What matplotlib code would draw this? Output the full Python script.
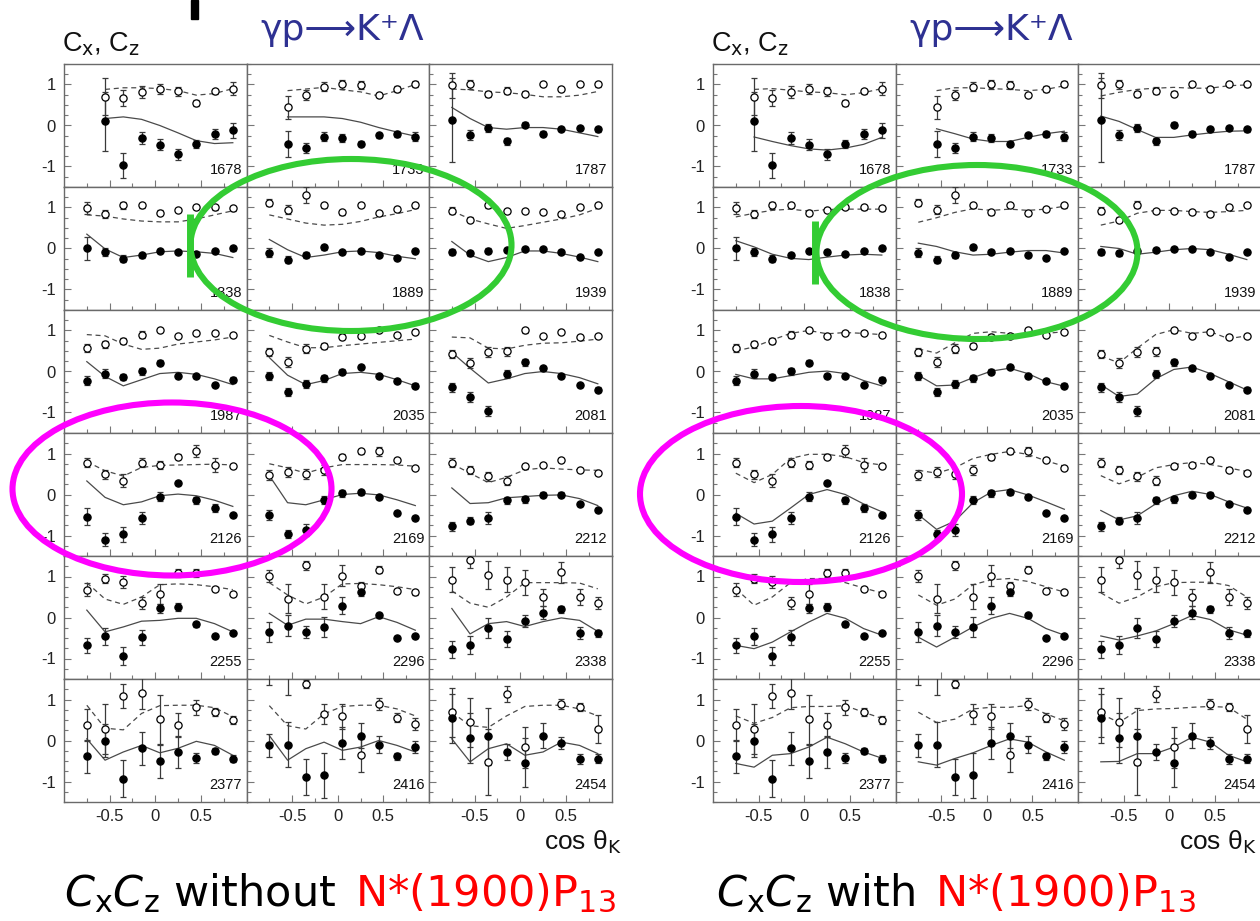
import numpy as np
import matplotlib
matplotlib.use("Agg")
import matplotlib.pyplot as plt
from matplotlib.patches import Ellipse, Rectangle
from matplotlib.lines import Line2D

plt.rcParams['font.family'] = ['Liberation Sans', 'DejaVu Sans']
plt.rcParams['axes.unicode_minus'] = False
plt.rcParams['mathtext.fontset'] = 'dejavusans'

nan = np.nan

# cos(theta_K) bin centres
cos_bins = [-0.75, -0.55, -0.35, -0.15, 0.05, 0.25, 0.45, 0.65, 0.85]

# W (MeV) of each panel, row by row
energies = [1678, 1733, 1787, 1838, 1889, 1939, 1987, 2035, 2081,
            2126, 2169, 2212, 2255, 2296, 2338, 2377, 2416, 2454]

# measured Cx (filled) and its errors
cx_vals = [
    [nan, 0.10, -0.97, -0.31, -0.47, -0.70, -0.46, -0.21, -0.12],
    [nan, -0.46, -0.55, -0.27, -0.31, -0.44, -0.24, -0.20, -0.27],
    [0.13, -0.23, -0.07, -0.39, 0.02, -0.20, -0.08, -0.07, -0.09],
    [0.00, -0.09, -0.25, -0.17, -0.06, -0.09, -0.14, -0.06, 0.00],
    [-0.10, -0.27, -0.16, 0.03, -0.08, -0.06, -0.16, -0.23, -0.06],
    [-0.09, -0.12, -0.06, -0.04, -0.01, -0.01, -0.08, -0.21, -0.09],
    [-0.22, -0.05, -0.13, 0.00, 0.21, -0.11, -0.12, -0.32, -0.20],
    [-0.11, -0.50, -0.30, -0.17, -0.01, 0.12, -0.11, -0.24, -0.35],
    [-0.39, -0.63, -0.97, -0.07, 0.22, 0.08, -0.11, -0.34, -0.45],
    [-0.54, -1.10, -0.97, -0.58, -0.05, 0.27, -0.14, -0.33, -0.49],
    [-0.51, -0.97, -0.86, -0.13, 0.03, 0.05, -0.05, -0.44, -0.57],
    [-0.78, -0.64, -0.58, -0.14, -0.12, 0.00, 0.00, -0.24, -0.38],
    [-0.68, -0.46, -0.93, -0.48, 0.22, 0.26, -0.17, -0.45, -0.39],
    [-0.35, -0.20, -0.35, -0.23, 0.29, 0.63, 0.06, -0.49, -0.45],
    [-0.78, -0.68, -0.25, -0.52, -0.08, 0.12, 0.20, -0.38, -0.39],
    [-0.39, 0.00, -0.93, -0.19, -0.51, -0.28, -0.42, -0.26, -0.44],
    [-0.12, -0.10, -0.89, -0.85, -0.06, 0.12, -0.10, -0.39, -0.15],
    [0.54, 0.06, 0.10, -0.28, -0.54, 0.12, -0.06, -0.46, -0.44],
]
cx_errs = [
    [nan, 0.71, 0.30, 0.15, 0.13, 0.13, 0.10, 0.12, 0.19],
    [nan, 0.32, 0.12, 0.10, 0.10, 0.06, 0.06, 0.07, 0.10],
    [1.02, 0.12, 0.10, 0.08, 0.06, 0.06, 0.05, 0.05, 0.06],
    [0.27, 0.10, 0.08, 0.06, 0.05, 0.05, 0.05, 0.05, 0.05],
    [0.10, 0.08, 0.08, 0.06, 0.05, 0.05, 0.05, 0.05, 0.05],
    [0.08, 0.06, 0.06, 0.05, 0.05, 0.05, 0.05, 0.04, 0.04],
    [0.12, 0.10, 0.08, 0.08, 0.06, 0.05, 0.04, 0.04, 0.06],
    [0.10, 0.10, 0.10, 0.08, 0.06, 0.04, 0.04, 0.05, 0.06],
    [0.12, 0.12, 0.12, 0.10, 0.08, 0.06, 0.05, 0.04, 0.06],
    [0.20, 0.15, 0.18, 0.15, 0.10, 0.05, 0.08, 0.10, 0.05],
    [0.12, 0.10, 0.15, 0.10, 0.08, 0.05, 0.05, 0.04, 0.04],
    [0.10, 0.08, 0.15, 0.08, 0.08, 0.06, 0.05, 0.04, 0.04],
    [0.18, 0.20, 0.22, 0.18, 0.12, 0.10, 0.06, 0.04, 0.04],
    [0.25, 0.25, 0.15, 0.25, 0.20, 0.10, 0.06, 0.04, 0.04],
    [0.20, 0.22, 0.25, 0.20, 0.15, 0.15, 0.08, 0.15, 0.08],
    [0.40, 0.40, 0.45, 0.40, 0.40, 0.38, 0.12, 0.08, 0.08],
    [0.28, 0.55, 0.45, 0.55, 0.40, 0.30, 0.20, 0.08, 0.15],
    [0.60, 0.60, 0.70, 0.20, 0.60, 0.30, 0.15, 0.12, 0.12],
]

# measured Cz (open) and its errors
cz_vals = [
    [nan, 0.70, 0.67, 0.82, 0.90, 0.83, 0.55, 0.83, 0.90],
    [nan, 0.44, 0.74, 0.95, 1.00, 0.98, 0.74, 0.89, 1.02],
    [0.98, 1.00, 0.77, 0.85, 0.78, 1.02, 0.90, 1.02, 1.00],
    [0.98, 0.84, 1.05, 1.05, 0.87, 0.94, 1.01, 1.00, 0.98],
    [1.12, 0.95, 1.30, 1.05, 0.88, 1.05, 0.87, 0.96, 1.05],
    [0.92, 0.70, 1.07, 0.92, 0.91, 0.88, 0.84, 1.02, 1.05],
    [0.57, 0.66, 0.74, 0.90, 1.01, 0.86, 0.95, 0.95, 0.90],
    [0.47, 0.23, 0.56, 0.62, 0.85, 0.87, 1.02, 0.90, 0.97],
    [0.42, 0.21, 0.47, 0.49, 1.00, 0.86, 0.97, 0.84, 0.87],
    [0.78, 0.49, 0.34, 0.78, 0.72, 0.92, 1.06, 0.72, 0.69],
    [0.47, 0.54, 0.49, 0.60, 0.92, 1.06, 1.05, 0.85, 0.65],
    [0.78, 0.60, 0.44, 0.34, 0.69, 0.71, 0.84, 0.60, 0.52],
    [0.68, 0.95, 0.86, 0.36, 0.57, 1.09, 1.09, 0.70, 0.57],
    [1.02, 0.46, 1.27, 0.51, 1.02, 0.76, 1.17, 0.64, 0.61],
    [0.92, 1.40, 1.04, 0.92, 0.86, 0.49, 1.10, 0.50, 0.35],
    [0.38, 0.28, 1.09, 1.15, 0.52, 0.38, 0.81, 0.69, 0.50],
    [1.70, 1.70, 1.37, 0.65, 0.59, -0.36, 0.89, 0.56, 0.40],
    [0.69, 0.44, -0.52, 1.13, -0.16, nan, 0.90, 0.81, 0.28],
]
cz_errs = [
    [nan, 0.45, 0.20, 0.15, 0.12, 0.10, 0.08, 0.06, 0.15],
    [nan, 0.28, 0.12, 0.10, 0.10, 0.10, 0.05, 0.07, 0.07],
    [0.30, 0.10, 0.08, 0.08, 0.06, 0.05, 0.05, 0.05, 0.06],
    [0.15, 0.10, 0.08, 0.06, 0.06, 0.05, 0.05, 0.05, 0.06],
    [0.08, 0.10, 0.19, 0.06, 0.06, 0.05, 0.05, 0.05, 0.06],
    [0.08, 0.06, 0.08, 0.05, 0.05, 0.05, 0.05, 0.05, 0.05],
    [0.10, 0.08, 0.08, 0.08, 0.05, 0.04, 0.04, 0.04, 0.05],
    [0.10, 0.12, 0.10, 0.08, 0.06, 0.05, 0.04, 0.04, 0.04],
    [0.10, 0.12, 0.12, 0.10, 0.06, 0.05, 0.04, 0.05, 0.04],
    [0.12, 0.10, 0.15, 0.12, 0.10, 0.06, 0.15, 0.18, 0.05],
    [0.12, 0.12, 0.12, 0.12, 0.08, 0.06, 0.10, 0.04, 0.04],
    [0.10, 0.10, 0.10, 0.12, 0.06, 0.05, 0.05, 0.04, 0.04],
    [0.15, 0.12, 0.15, 0.15, 0.25, 0.10, 0.10, 0.05, 0.05],
    [0.15, 0.35, 0.12, 0.30, 0.25, 0.10, 0.08, 0.05, 0.05],
    [0.30, 0.20, 0.35, 0.30, 0.30, 0.20, 0.25, 0.20, 0.15],
    [0.40, 0.60, 0.30, 0.38, 0.60, 0.30, 0.18, 0.10, 0.10],
    [0.35, 0.60, 0.10, 0.25, 0.30, 0.40, 0.15, 0.10, 0.15],
    [0.60, 0.60, 0.80, 0.20, 0.50, nan, 0.12, 0.10, 0.35],
]

# model curves, sampled at the bin centres: fit without N*(1900)P13
cx_fit_without = [
    [nan, 0.17, 0.21, 0.15, 0.00, -0.18, -0.37, -0.44, -0.42],
    [nan, 0.21, 0.21, 0.21, 0.17, 0.08, -0.05, -0.16, -0.26],
    [0.44, 0.17, -0.05, -0.09, -0.05, -0.05, -0.09, -0.18, -0.27],
    [0.35, -0.01, -0.22, -0.16, -0.08, -0.06, -0.08, -0.12, -0.22],
    [0.22, -0.03, -0.22, -0.16, -0.08, -0.06, -0.10, -0.19, -0.25],
    [0.17, -0.16, -0.32, -0.22, -0.06, -0.06, -0.12, -0.21, -0.32],
    [0.24, -0.12, -0.35, -0.20, -0.05, -0.02, -0.07, -0.18, -0.32],
    [0.34, -0.09, -0.32, -0.22, -0.05, -0.02, -0.07, -0.20, -0.35],
    [0.47, 0.08, -0.28, -0.18, -0.05, 0.00, -0.05, -0.15, -0.30],
    [0.33, -0.07, -0.25, -0.18, -0.03, 0.01, -0.03, -0.14, -0.29],
    [0.46, -0.20, -0.25, -0.13, 0.00, 0.03, -0.01, -0.13, -0.27],
    [0.16, -0.22, -0.20, -0.08, -0.05, -0.02, -0.01, -0.10, -0.27],
    [0.18, -0.35, -0.23, -0.09, -0.07, -0.02, -0.02, -0.15, -0.35],
    [0.10, -0.19, -0.04, -0.04, -0.10, -0.15, 0.02, -0.12, -0.31],
    [0.22, -0.40, -0.15, -0.10, -0.22, -0.10, -0.01, -0.07, -0.34],
    [0.04, -0.48, -0.28, -0.12, -0.30, -0.19, -0.02, -0.12, -0.36],
    [0.12, -0.48, -0.20, -0.04, -0.24, -0.16, 0.00, -0.12, -0.28],
    [0.04, -0.52, -0.20, -0.08, -0.36, -0.28, -0.04, -0.12, -0.32],
]
cz_fit_without = [
    [nan, 0.88, 0.92, 0.92, 0.90, 0.85, 0.74, 0.78, 0.90],
    [nan, 0.85, 0.89, 0.93, 0.87, 0.82, 0.72, 0.85, 1.00],
    [0.89, 0.87, 0.82, 0.80, 0.76, 0.70, 0.70, 0.74, 0.83],
    [0.82, 0.79, 0.72, 0.67, 0.65, 0.65, 0.72, 0.82, 0.92],
    [0.82, 0.72, 0.62, 0.57, 0.59, 0.66, 0.77, 0.85, 0.95],
    [0.92, 0.72, 0.60, 0.49, 0.56, 0.64, 0.72, 0.82, 0.98],
    [0.90, 0.87, 0.67, 0.54, 0.57, 0.67, 0.72, 0.77, 0.84],
    [0.88, 0.72, 0.58, 0.58, 0.63, 0.67, 0.71, 0.75, 0.79],
    [0.84, 0.82, 0.57, 0.55, 0.64, 0.69, 0.70, 0.74, 0.79],
    [0.80, 0.58, 0.45, 0.66, 0.71, 0.72, 0.73, 0.74, 0.72],
    [0.75, 0.65, 0.52, 0.65, 0.73, 0.73, 0.73, 0.72, 0.69],
    [0.75, 0.52, 0.29, 0.42, 0.60, 0.65, 0.62, 0.60, 0.59],
    [0.85, 0.45, 0.32, 0.50, 0.80, 0.82, 0.80, 0.75, 0.68],
    [0.85, 0.55, 0.33, 0.50, 0.82, 0.83, 0.80, 0.75, 0.68],
    [0.65, 0.35, 0.25, 0.50, 0.85, 0.85, 0.85, 0.84, 0.70],
    [0.86, 0.30, 0.26, 0.66, 0.85, 0.86, 0.86, 0.80, 0.58],
    [0.85, 0.36, 0.28, 0.65, 0.83, 0.86, 0.86, 0.77, 0.60],
    [0.69, 0.36, 0.32, 0.60, 0.83, 0.86, 0.86, 0.77, 0.60],
]

# model curves: fit with N*(1900)P13
cx_fit_with = [
    [nan, -0.28, -0.39, -0.49, -0.57, -0.60, -0.55, -0.46, -0.29],
    [nan, -0.08, -0.20, -0.33, -0.39, -0.39, -0.29, -0.20, -0.14],
    [0.23, 0.10, -0.10, -0.29, -0.29, -0.23, -0.18, -0.14, -0.13],
    [0.19, 0.04, -0.14, -0.24, -0.27, -0.21, -0.16, -0.14, -0.16],
    [0.13, 0.05, -0.08, -0.16, -0.14, -0.09, -0.05, -0.05, -0.11],
    [0.05, 0.00, -0.14, -0.09, -0.03, 0.00, -0.03, -0.14, -0.27],
    [-0.07, -0.18, -0.18, -0.10, -0.02, 0.01, -0.05, -0.22, -0.35],
    [-0.09, -0.35, -0.33, -0.15, 0.01, 0.08, -0.05, -0.25, -0.36],
    [-0.32, -0.61, -0.55, -0.18, 0.05, 0.11, -0.05, -0.25, -0.45],
    [-0.46, -0.72, -0.65, -0.33, 0.00, 0.12, 0.00, -0.23, -0.42],
    [-0.49, -0.85, -0.65, -0.20, 0.06, 0.12, -0.01, -0.18, -0.36],
    [-0.39, -0.62, -0.52, -0.23, -0.03, 0.08, 0.00, -0.18, -0.33],
    [-0.68, -0.76, -0.60, -0.35, -0.11, 0.10, -0.02, -0.27, -0.43],
    [-0.48, -0.72, -0.48, -0.23, -0.02, 0.10, -0.02, -0.27, -0.43],
    [-0.45, -0.55, -0.45, -0.33, -0.15, 0.05, -0.05, -0.30, -0.43],
    [-0.56, -0.65, -0.36, -0.32, -0.16, 0.08, -0.08, -0.28, -0.43],
    [-0.52, -0.60, -0.44, -0.30, -0.12, 0.04, -0.04, -0.28, -0.48],
    [-0.52, -0.51, -0.32, -0.32, -0.16, 0.08, -0.04, -0.36, -0.52],
]
cz_fit_with = [
    [nan, 0.88, 0.90, 0.86, 0.82, 0.80, 0.75, 0.80, 0.90],
    [nan, 0.85, 0.92, 0.92, 0.90, 0.88, 0.85, 0.88, 0.97],
    [0.72, 0.81, 0.88, 0.91, 0.93, 0.91, 0.91, 0.97, 0.99],
    [0.77, 0.86, 0.93, 0.96, 0.91, 0.95, 0.96, 0.96, 0.96],
    [0.64, 0.75, 0.88, 0.97, 0.93, 0.96, 0.93, 0.96, 1.03],
    [0.57, 0.67, 0.86, 0.93, 0.93, 0.90, 0.88, 0.90, 0.93],
    [0.50, 0.60, 0.77, 0.93, 1.00, 0.92, 0.95, 0.93, 0.90],
    [0.55, 0.45, 0.70, 0.93, 0.97, 0.93, 0.90, 0.93, 0.97],
    [0.38, 0.21, 0.57, 0.90, 1.02, 0.93, 0.97, 0.80, 0.87],
    [0.52, 0.29, 0.49, 0.88, 0.98, 0.98, 0.92, 0.78, 0.72],
    [0.59, 0.52, 0.65, 0.88, 0.98, 1.05, 0.98, 0.82, 0.69],
    [0.46, 0.26, 0.42, 0.65, 0.73, 0.78, 0.73, 0.65, 0.56],
    [0.70, 0.30, 0.50, 0.85, 0.95, 0.95, 0.85, 0.72, 0.60],
    [0.55, 0.30, 0.45, 0.80, 0.92, 0.95, 0.88, 0.75, 0.62],
    [0.60, 0.35, 0.50, 0.75, 0.85, 0.86, 0.86, 0.78, 0.50],
    [0.60, 0.42, 0.56, 0.80, 0.83, 0.83, 0.85, 0.69, 0.54],
    [0.69, 0.44, 0.52, 0.77, 0.81, 0.81, 0.85, 0.65, 0.48],
    [0.65, 0.44, 0.73, 0.77, 0.78, 0.81, 0.83, 0.81, 0.52],
]

W, H = 1260, 921
fig = plt.figure(figsize=(W / 100, H / 100), dpi=100)
fig.patch.set_facecolor('white')

COL_W = 182.5
ROW_H = 123.0
TOP = 64
FRAME = '#6a6a6a'
CURVE = '#4a4a4a'


def px_box(x0, y0, w, h):
    return [x0 / W, 1 - (y0 + h) / H, w / W, h / H]


def draw_grid(x_left, fit_cx, fit_cz):
    x = np.array(cos_bins)
    for k, energy in enumerate(energies):
        row, col = divmod(k, 3)
        ax = fig.add_axes(px_box(x_left + col * COL_W, TOP + row * ROW_H,
                                 COL_W, ROW_H))
        ylim = 1.2 if row < 4 else 1.5
        ax.set_xlim(-1, 1)
        ax.set_ylim(-ylim, ylim)
        ax.set_xticks([-0.5, 0, 0.5])
        ax.set_xticks([-0.75, -0.25, 0.25, 0.75], minor=True)
        ax.set_yticks([-1, 0, 1])
        ax.set_yticks(np.arange(-1.5, 1.51, 0.25), minor=True)
        ax.set_xticklabels(['-0.5', '0', '0.5'])
        ax.set_yticklabels(['-1', '0', '1'])
        ax.tick_params(which='both', direction='in', color='#777777',
                       top=False, right=False, labelsize=12,
                       labelcolor='#222222', width=0.8)
        ax.tick_params(which='major', length=5)
        ax.tick_params(which='minor', length=3)
        ax.tick_params(axis='y', pad=6)
        ax.tick_params(axis='x', pad=5)
        if col != 0:
            ax.tick_params(axis='y', labelleft=False)
        if row != 5:
            ax.tick_params(axis='x', labelbottom=False)
        for sp in ax.spines.values():
            sp.set_color(FRAME)
            sp.set_linewidth(1.0)

        # model curves
        ax.plot(x, fit_cx[k], color=CURVE, lw=0.9, zorder=2)
        ax.plot(x, fit_cz[k], color=CURVE, lw=0.9, ls=(0, (4, 3)), zorder=2)

        # data with error bars
        for vals, errs, face in ((cz_vals[k], cz_errs[k], 'white'),
                                 (cx_vals[k], cx_errs[k], 'black')):
            v = np.array(vals, dtype=float)
            e = np.array(errs, dtype=float)
            ax.errorbar(x, v, yerr=e, fmt='none', ecolor='#3a3a3a',
                        elinewidth=0.9, capsize=2.3, capthick=0.9, zorder=3)
            ax.plot(x, v, ls='none', marker='o', ms=5.2, mfc=face,
                    mec='black', mew=0.9, zorder=4)

        ax.text(0.975, 0.105, str(energy), transform=ax.transAxes,
                ha='right', va='baseline', fontsize=10.5, color='#111111')

    # axis titles around the grid
    fig.text((x_left - 2) / W, 1 - 52 / H, r'C$_{\mathrm{x}}$, C$_{\mathrm{z}}$',
             fontsize=19.5, ha='left', va='baseline', color='#111111')
    x_end = min(x_left + 3 * COL_W + 10, W - 3)
    fig.text(x_end / W, 1 - 849 / H, r'cos θ$_{\mathrm{K}}$',
             fontsize=19, ha='right', va='baseline', color='#111111')
    fig.text((x_left + 278) / W, 1 - 40 / H, 'γp⟶K⁺Λ', fontsize=26,
             ha='center', va='baseline', color='#2e3192',
             family=['DejaVu Sans'])


draw_grid(64, cx_fit_without, cz_fit_without)
draw_grid(713, cx_fit_with, cz_fit_with)

# captions below each grid
cap_kw = dict(fontsize=31, va='baseline', family=['DejaVu Sans'])
fig.text(64 / W, 1 - 906 / H, r'$C_{\mathrm{x}}C_{\mathrm{z}}$ without',
         ha='left', color='black', **cap_kw)
fig.text(355 / W, 1 - 906 / H, r'N*(1900)P$_{\mathrm{13}}$',
         ha='left', color='#ff0000', **cap_kw)
fig.text(716 / W, 1 - 906 / H, r'$C_{\mathrm{x}}C_{\mathrm{z}}$ with',
         ha='left', color='black', **cap_kw)
fig.text(935 / W, 1 - 906 / H, r'N*(1900)P$_{\mathrm{13}}$',
         ha='left', color='#ff0000', **cap_kw)

# highlight rings
green = '#33cc33'
magenta = '#ff00ff'
rings = [((351, 245), 321, 172, green), ((977, 252), 321, 174, green),
         ((172, 489), 319, 173, magenta), ((801, 494), 322, 176, magenta)]
for (cx, cy), w, h, c in rings:
    fig.add_artist(Ellipse((cx / W, 1 - cy / H), w / W, h / H, fill=False,
                           ec=c, lw=4.4, transform=fig.transFigure, zorder=10))
for xb, y0, y1 in ((190, 214, 277), (815, 221, 284)):
    fig.add_artist(Line2D([xb / W, xb / W], [1 - y0 / H, 1 - y1 / H],
                          color=green, lw=5, solid_capstyle='butt',
                          transform=fig.transFigure, zorder=10))
fig.add_artist(Rectangle((191 / W, 1 - 19 / H), 7 / W, 19 / H, color='black',
                         transform=fig.transFigure, zorder=10))

fig.savefig('out.png', dpi=100, facecolor='white')
